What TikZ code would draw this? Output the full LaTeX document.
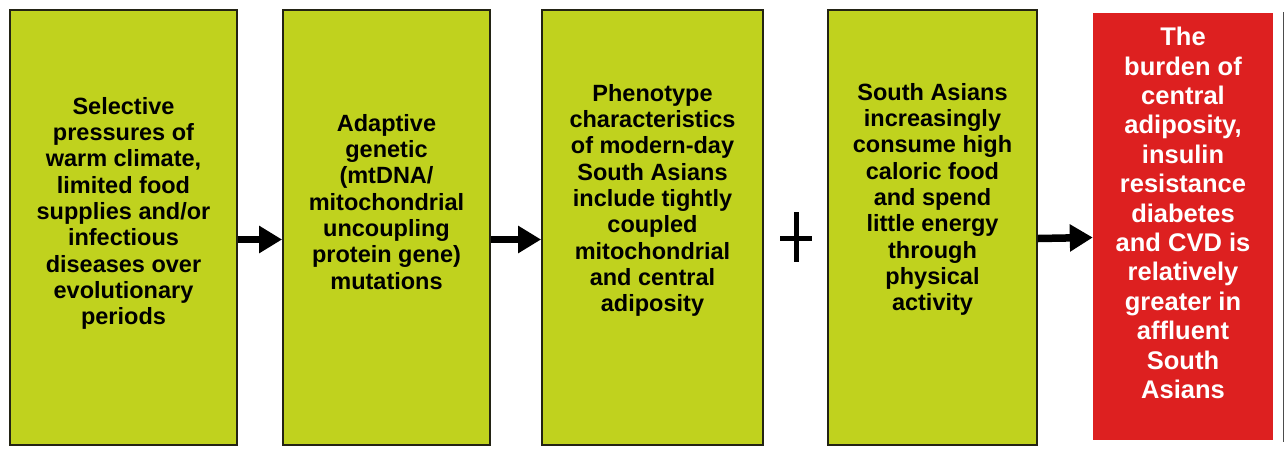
\documentclass[tikz,border=0pt]{standalone}
\usepackage{fontspec}
\setmainfont{Liberation Sans}
\usetikzlibrary{arrows.meta}
\definecolor{boxgreen}{RGB}{192,210,30}
\definecolor{boxred}{RGB}{221,32,32}
\definecolor{edgec}{RGB}{35,35,20}
\begin{document}
\begin{tikzpicture}[x=1pt,y=-1pt,
  gbox/.style={rectangle, draw=edgec, line width=1.8pt, fill=boxgreen, inner sep=0pt, minimum height=435pt},
  rbox/.style={rectangle, fill=boxred, inner sep=0pt, minimum height=427pt, minimum width=180pt},
  gtext/.style={anchor=north, align=center, inner sep=0pt, text=black,
    font=\fontsize{23.5}{26.3}\selectfont\bfseries},
  rtext/.style={anchor=north, align=center, inner sep=0pt, text=white,
    font=\fontsize{25.5}{29.4}\selectfont\bfseries},
  flow/.style={line width=7.5pt, -{Triangle[length=23pt,width=26pt]}, black}]
\useasboundingbox (0,0) rectangle (1287,448);
\fill[white] (0,0) rectangle (1287,448);

\node[gbox, minimum width=227pt] (b1) at (123.5,227.5) {};
\node[gbox, minimum width=207pt] (b2) at (386.5,227.5) {};
\node[gbox, minimum width=221pt] (b3) at (652.5,227.5) {};
\node[gbox, minimum width=209pt] (b4) at (932.5,227.5) {};
\node[rbox] (b5) at (1183,226.5) {};
\draw[black!70, line width=1pt] (1283,12) -- (1283,442);

\node[gtext] (t1) at (123.5,97) {Selective\\pressures of\\warm climate,\\limited food\\supplies and/or\\infectious\\diseases over\\evolutionary\\periods};
\node[gtext] (t2) at (386.5,114) {Adaptive\\genetic\\(mtDNA/\\mitochondrial\\uncoupling\\protein gene)\\mutations};
\node[gtext] (t3) at (652.5,84) {Phenotype\\characteristics\\of modern-day\\South Asians\\include tightly\\coupled\\mitochondrial\\and central\\adiposity};
\node[gtext] (t4) at (932.5,83) {South Asians\\increasingly\\consume high\\caloric food\\and spend\\little energy\\through\\physical\\activity};
\node[rtext] (t5) at (1183,27) {The\\burden of\\central\\adiposity,\\insulin\\resistance\\diabetes\\and CVD is\\relatively\\greater in\\affluent\\South\\Asians};

\draw[flow] ([yshift=-12pt]b1.east) -- ([yshift=-12pt]b2.west);
\draw[flow] ([yshift=-12pt]b2.east) -- ([yshift=-12pt]b3.west);
\draw[flow] ([yshift=-11pt]b4.east) -- ([yshift=-11pt]b5.west);

\coordinate (plus) at (796,238);
\draw[black, line width=5pt] ([xshift=-16pt]plus) -- ([xshift=16pt]plus);
\draw[black, line width=5pt] ([yshift=26pt]plus) -- ([yshift=-24pt]plus);
\end{tikzpicture}
\end{document}
